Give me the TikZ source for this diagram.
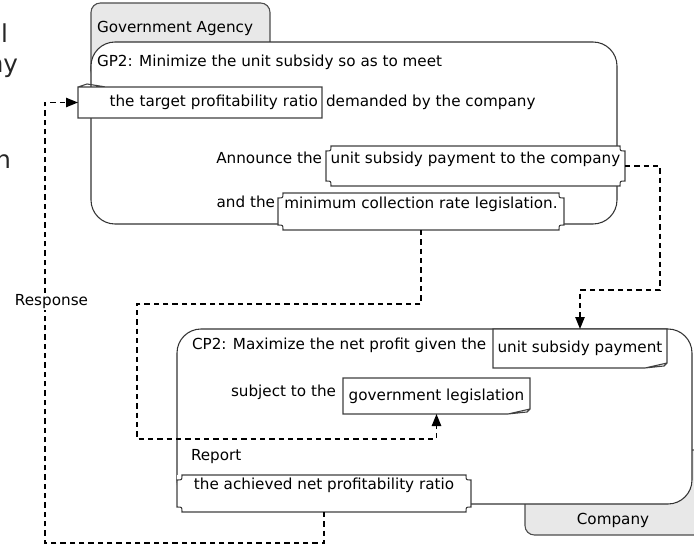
\documentclass[tikz,border=0pt]{standalone}
\usepackage{fontspec}
\setmainfont{DejaVu Sans}
\usetikzlibrary{arrows.meta,calc}

\tikzset{
  every node/.style={inner sep=0pt, outer sep=0pt, font=\fontsize{11.4pt}{14pt}\selectfont},
  lane/.style={draw=black!80, line width=0.8pt, fill=white, rounded corners=18pt},
  lanetab/.style={draw=black!70, line width=0.8pt, fill=black!9, rounded corners=7pt},
  txt/.style={anchor=west},
  notebox/.style={fill=white, inner xsep=3pt},
  bracketbox/.style={fill=white},
  edge/.style={draw=black!75, line width=0.8pt},
  flow/.style={line width=1.1pt, dash pattern=on 4pt off 3pt, -{Triangle[length=9pt,width=7pt]}},
  frag/.style={anchor=base east, font=\fontsize{18.5pt}{22pt}\selectfont, text=black!85}
}

\begin{document}
\begin{tikzpicture}[x=0.75pt,y=-0.75pt]
  \useasboundingbox (0,0) rectangle (694,546);
  \clip (0,0) rectangle (694,546);
  %% Cut-off slide text at the left edge
  \node[frag] (fragA) at (8,42) {el};
  \node[frag] (fragB) at (18,72) {ny};
  \node[frag] (fragC) at (11,168) {n};
  %% Draw the lanes
  \node[lanetab, minimum width=134.25pt, minimum height=57.75pt] (gatab) at (180.5,41.5) {};
  \node[txt] (gatitle) at (97,28) {Government Agency};
  \node[lane, minimum width=394.5pt, minimum height=136.5pt] (ga) at (354,133) {};
  \node[lanetab, minimum width=146.25pt, minimum height=63.75pt] (cptab) at (622.5,492.5) {};
  \node (cptitle) at (613,520) {Company};
  \node[lane, minimum width=386.25pt, minimum height=131.25pt] (cp) at (434.5,416.5) {};
  %% Government agency texts
  \node[txt] (gp2) at (97,62) {GP2: Minimize the unit subsidy so as to meet};
  \node[notebox, text width=177pt, align=right, minimum height=23.25pt] (tgt) at (200,102.5) {the target profitability ratio};
  \node[txt] (dem) at (326,102) {demanded by the company};
  \node[anchor=east] (ann) at (322,158) {Announce the};
  \node[bracketbox, minimum width=224.25pt, text height=13.2pt, text depth=16.8pt] (gpay) at (475.5,166) {unit subsidy payment to the company};
  \node[anchor=east] (andthe) at (275,202) {and the};
  \node[bracketbox, minimum width=214.5pt, text height=11.7pt, text depth=16.05pt] (legis) at (421,211.5) {minimum collection rate legislation.};
  %% Company texts
  \node[txt] (cp2) at (192,345) {CP2: Maximize the net profit given the};
  \node[notebox, minimum width=130.5pt, minimum height=29.25pt] (cpay) at (580,348.5) {unit subsidy payment};
  \node[anchor=east] (subj) at (336,392) {subject to the};
  \node[notebox, minimum width=140.25pt, minimum height=27pt] (govl) at (436.5,396) {government legislation};
  \node[txt] (rep) at (191,457) {Report};
  \node[bracketbox, minimum width=220.5pt, text height=11pt, text depth=16.75pt] (report) at (324,493.5) {the achieved net profitability ratio};
  %% Box outlines
  \foreach \b in {cpay,govl}
    \draw[edge] (\b.south west) -- ($(\b.south east)+(-22,0)$) -- ($(\b.south east)+(0,-5)$)
      -- (\b.north east) -- (\b.north west) -- cycle
      ($(\b.south east)+(-22,0)$) -- ($(\b.south east)+(-3,-2)$) -- ($(\b.south east)+(0,-5)$);
  \draw[edge] (tgt.south west) -- (tgt.north west) -- (tgt.north east) -- (tgt.south east) -- cycle
    (tgt.north west) -- ($(tgt.north west)+(9,-3)$) -- ($(tgt.north west)+(28,0)$);
  \foreach \b in {gpay,legis,report}
    \draw[edge] ($(\b.north west)+(5,0)$) -- ($(\b.north east)+(-5,0)$)
      .. controls ($(\b.north east)+(-5,5)$) .. ($(\b.north east)+(0,5)$)
      -- ($(\b.south east)+(0,-5)$)
      .. controls ($(\b.south east)+(-5,-5)$) .. ($(\b.south east)+(-5,0)$)
      -- ($(\b.south west)+(5,0)$)
      .. controls ($(\b.south west)+(5,-5)$) .. ($(\b.south west)+(0,-5)$)
      -- ($(\b.north west)+(0,5)$)
      .. controls ($(\b.north west)+(5,5)$) .. ($(\b.north west)+(5,0)$) -- cycle;
  %% Draw the message flows
  \coordinate (k1) at (660,290);
  \coordinate (k2) at (137,304);
  \coordinate (k3) at (436.5,439);
  \coordinate (k4) at (45,543);
  \begin{scope}[every path/.style={flow}]
    \draw (gpay.east) -| (k1) -| (cpay.north);
    \draw (legis.south) |- (k2) |- (k3) -- (govl.south);
    \draw (report.south) |- (k4) |- (tgt.west);
  \end{scope}
  \node[fill=white, inner sep=1pt] (resp) at (51.5,302) {Response};
\end{tikzpicture}
\end{document}
